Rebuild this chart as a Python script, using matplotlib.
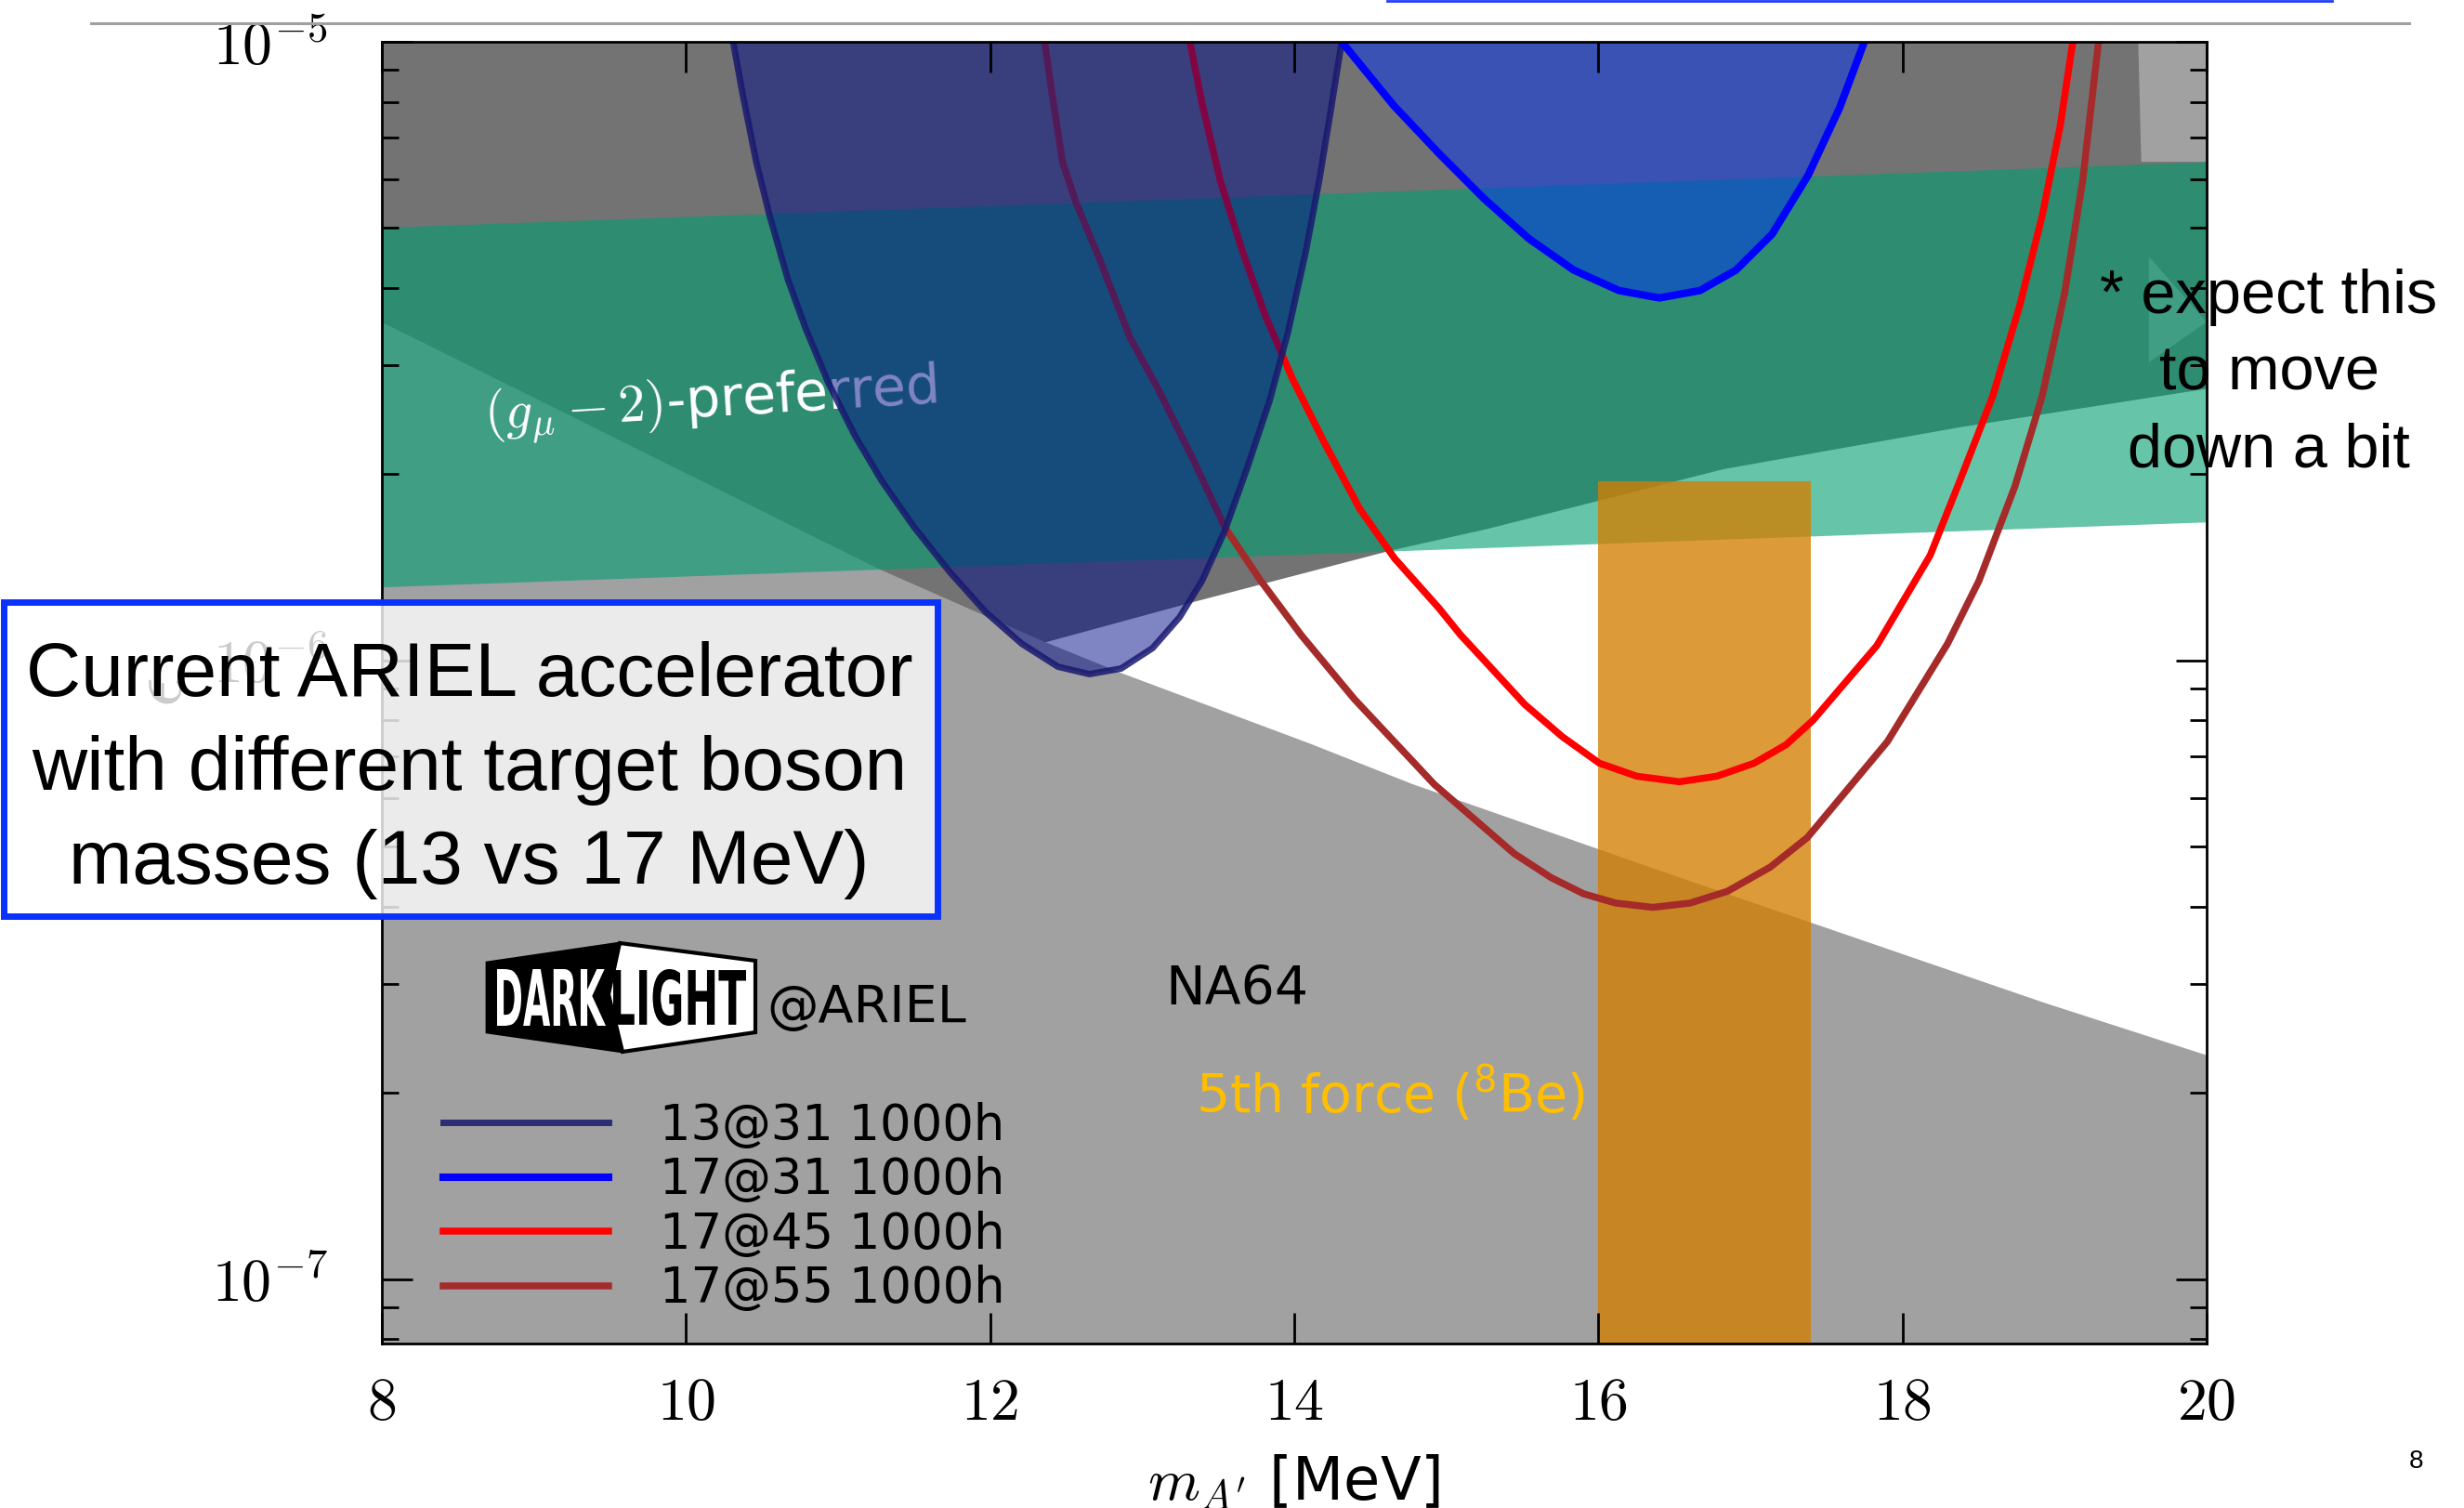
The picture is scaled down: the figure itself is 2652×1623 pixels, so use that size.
import numpy as np
import matplotlib
matplotlib.use('Agg')
import matplotlib.pyplot as plt
from matplotlib.patches import Rectangle, Polygon, PathPatch
from matplotlib.lines import Line2D
from matplotlib.textpath import TextPath
from matplotlib.font_manager import FontProperties
from matplotlib.transforms import Affine2D
from matplotlib.ticker import NullFormatter

plt.rcParams['font.family'] = 'DejaVu Sans'
plt.rcParams['mathtext.fontset'] = 'cm'

W, H, DPI = 2652, 1623, 200

# reach curves: x in MeV, y as log10(epsilon)
x_13_31 = [10.31, 10.373, 10.462, 10.551, 10.67, 10.788, 10.936, 11.114, 11.291, 11.499, 11.735, 11.972,
           12.209, 12.446, 12.653, 12.861, 13.068, 13.246, 13.394, 13.542, 13.69, 13.838, 13.957, 14.075,
           14.164, 14.238, 14.312]
y_13_31 = [-5.0, -5.085, -5.194, -5.282, -5.384, -5.464, -5.551, -5.638, -5.711, -5.784, -5.857, -5.922,
           -5.973, -6.010, -6.022, -6.013, -5.980, -5.930, -5.871, -5.791, -5.689, -5.580, -5.471, -5.340,
           -5.224, -5.114, -5.0]

x_17_31 = [14.312, 14.654, 14.95, 15.246, 15.542, 15.838, 16.135, 16.401, 16.668, 16.905, 17.142, 17.379,
           17.586, 17.749]
y_17_31 = [-5.0, -5.103, -5.18, -5.253, -5.318, -5.369, -5.402, -5.414, -5.402, -5.369, -5.311, -5.216,
           -5.107, -5.0]

x_17_45 = [13.314, 13.394, 13.513, 13.661, 13.809, 13.987, 14.194, 14.431, 14.66, 14.95, 15.095, 15.246,
           15.516, 15.762, 16.007, 16.252, 16.533, 16.779, 17.024, 17.235, 17.41, 17.831, 18.182, 18.386,
           18.593, 18.77, 18.918, 19.037, 19.12]
y_17_45 = [-5.0, -5.1, -5.224, -5.34, -5.442, -5.544, -5.646, -5.755, -5.835, -5.915, -5.959, -5.999,
           -6.071, -6.123, -6.166, -6.187, -6.196, -6.187, -6.166, -6.136, -6.097, -5.976, -5.83, -5.704,
           -5.573, -5.427, -5.282, -5.136, -5.0]

x_17_55 = [12.358, 12.417, 12.476, 12.565, 12.713, 12.92, 13.098, 13.335, 13.542, 13.779, 14.046, 14.394,
           14.92, 15.446, 15.69, 15.902, 16.113, 16.358, 16.604, 16.849, 17.13, 17.375, 17.901, 18.296,
           18.503, 18.74, 18.918, 19.067, 19.185, 19.289]
y_17_55 = [-5.0, -5.1, -5.194, -5.26, -5.347, -5.478, -5.558, -5.675, -5.784, -5.871, -5.959, -6.062,
           -6.2, -6.312, -6.351, -6.377, -6.392, -6.399, -6.392, -6.373, -6.334, -6.286, -6.131, -5.973,
           -5.871, -5.718, -5.573, -5.405, -5.224, -5.0]

curve_labels = ['13@31 1000h', '17@31 1000h', '17@45 1000h', '17@55 1000h']

# excluded regions
x_na64 = [8, 11.26, 12.36, 12.86, 14.1, 14.78, 16.49, 18.93, 20]
y_na64 = [-5.453, -5.851, -5.97, -6.02, -6.134, -6.2, -6.347, -6.553, -6.638]

x_upper = [8, 11.26, 12.36, 13.33, 14.64, 15.26, 16.82, 18.38, 20]
y_upper = [-5.453, -5.851, -5.97, -5.905, -5.821, -5.787, -5.69, -5.622, -5.56]

x_corner = [19.55, 19.57, 20, 20]
y_corner = [-5.0, -5.194, -5.194, -5.0]
x_sliver = [19.62, 19.62, 20]
y_sliver = [-5.347, -5.518, -5.453]

# (g-2) preferred band
x_gm2 = [8, 20]
y_gm2_low = [-5.881, -5.776]
y_gm2_high = [-5.30, -5.194]

# 8Be band
x_be8 = [16.0, 17.4]
y_be8_top = -5.71

x_ticks = [8, 10, 12, 14, 16, 18, 20]
y_ticks = [1e-7, 1e-6, 1e-5]
y_ticklabels = [r'$10^{-7}$', r'$10^{-6}$', r'$10^{-5}$']


def px(x, y):
	# slide pixel position -> figure fraction
	return x / W, 1 - y / H


def squeezed_word(fig, s, x0, y0, x1, y1, color):
	# logo lettering, stretched to fill a pixel box
	tp = TextPath((0, 0), s, size=1, prop=FontProperties(family='DejaVu Sans', weight='bold'))
	bb = tp.get_extents()
	tr = (Affine2D().translate(-bb.x0, -bb.y0)
		.scale((x1 - x0) / bb.width / DPI, (y1 - y0) / bb.height / DPI)
		.translate(x0 / DPI, (H - y1) / DPI) + fig.dpi_scale_trans)
	fig.add_artist(PathPatch(tp, fc=color, ec='none', transform=tr, zorder=9))


def main():
	fig = plt.figure(figsize=(W / DPI, H / DPI), dpi=DPI)
	ax = fig.add_axes([411 / W, 1 - 1446 / H, 1964 / W, 1401 / H])
	ax.set_yscale('log')
	ymin = 10 ** -7.104

	# exclusions
	ax.fill_between(x_na64, 1e-9, 10 ** np.array(y_na64), color='#a1a1a1', lw=0, zorder=1)
	ax.fill_between(x_upper, 10 ** np.array(y_upper), 1e-4, color='#737373', lw=0, zorder=1)
	ax.fill(x_corner, 10 ** np.array(y_corner), color='#a1a1a1', lw=0, zorder=1.1)
	ax.fill(x_sliver, 10 ** np.array(y_sliver), color='#a1a1a1', lw=0, zorder=1.1)

	ax.fill_between(x_gm2, 10 ** np.array(y_gm2_low), 10 ** np.array(y_gm2_high),
		color='#009d71', alpha=0.6, lw=0, zorder=2)
	ax.text(10.16, 10 ** -5.585, r'$(g_\mu - 2)$-preferred', color='white', fontsize=21,
		rotation=3.5, ha='center', va='center', rotation_mode='anchor', zorder=2.5)

	ax.fill_between(x_be8, 1e-9, 10 ** y_be8_top, color='#d37e00', alpha=0.78, lw=0, zorder=3)

	# projected reach
	l45, = ax.plot(x_17_45, 10 ** np.array(y_17_45), color='red', lw=2.7, zorder=4, label=curve_labels[2])
	l55, = ax.plot(x_17_55, 10 ** np.array(y_17_55), color='brown', lw=2.7, zorder=4, label=curve_labels[3])
	ax.fill(x_13_31, 10 ** np.array(y_13_31), color='#000d87', alpha=0.5, lw=0, zorder=5)
	l13, = ax.plot(x_13_31, 10 ** np.array(y_13_31), color='midnightblue', alpha=0.85, lw=2.5,
		zorder=6, label=curve_labels[0])
	ax.fill(x_17_31, 10 ** np.array(y_17_31), color='#0032f5', alpha=0.5, lw=0, zorder=5)
	l31, = ax.plot(x_17_31, 10 ** np.array(y_17_31), color='blue', lw=2.9, zorder=6, label=curve_labels[1])

	ax.text(13.15, 10 ** -6.556, 'NA64', fontsize=20.5, va='baseline', zorder=7)
	ax.text(13.35, 10 ** -6.731, r'5th force ($\mathregular{^8}$Be)', color='#ffbf00', fontsize=20.5,
		va='baseline', zorder=7)

	ax.set_xlim(8, 20)
	ax.set_ylim(ymin, 1e-5)
	ax.set_xticks(x_ticks)
	ax.set_xticklabels(['$%d$' % v for v in x_ticks])
	ax.set_yticks(y_ticks)
	ax.set_yticklabels(y_ticklabels)
	ax.yaxis.set_minor_formatter(NullFormatter())
	ax.tick_params(which='both', direction='in', top=True, right=True, width=1.0, labelsize=23)
	ax.tick_params(which='major', length=12)
	ax.tick_params(which='minor', length=6.5)
	ax.tick_params(axis='x', pad=12)
	ax.tick_params(axis='y', pad=21)
	ax.xaxis.set_zorder(10)
	ax.yaxis.set_zorder(10)
	for sp in ax.spines.values():
		sp.set_zorder(10)
		sp.set_linewidth(1.0)

	ax.set_xlabel(r"$m_{A'}$ [MeV]", fontsize=23, labelpad=8)
	ax.set_ylabel(r'$\epsilon$', fontsize=28, labelpad=6)

	leg = ax.legend(handles=[l13, l31, l45, l55], loc='upper left', bbox_to_anchor=(0.0336, 0.1857),
		frameon=False, fontsize=19, handlelength=3.37, handletextpad=1.04, labelspacing=0.122,
		borderpad=0, borderaxespad=0)
	leg.set_zorder(8)

	# DarkLight logo
	to_fig = Affine2D().scale(1 / W, -1 / H).translate(0, 1) + fig.transFigure
	fig.add_artist(Polygon([(524, 1036), (667, 1015), (655, 1070), (670, 1132), (524, 1111)],
		closed=True, fc='black', ec='black', lw=1, zorder=8, transform=to_fig))
	fig.add_artist(Polygon([(667, 1015), (813, 1034), (813, 1111), (670, 1132), (655, 1070)],
		closed=True, fc='white', ec='black', lw=1.5, zorder=8, transform=to_fig))
	squeezed_word(fig, 'DARK', 535, 1043, 652, 1104, 'white')
	squeezed_word(fig, 'LIGHT', 660, 1043, 803, 1104, 'black')
	ax.text(0.2108, 0.247, '@ARIEL', transform=ax.transAxes, fontsize=20, va='baseline', zorder=8)

	# slide decorations
	fig.add_artist(Line2D([98 / W, 2593 / W], [1 - 25 / H] * 2, color='#a0a0a0', lw=1.1))
	fig.add_artist(Line2D([1493 / W, 2510 / W], [1 - 1 / H] * 2, color='#1f3cff', lw=1.0))
	bx, by = px(3.5, 986.5)
	fig.add_artist(Rectangle((bx, by), 1005 / W, 338.5 / H, transform=fig.transFigure,
		fc=(1, 1, 1, 0.8), ec='#0a32ff', lw=2.5, zorder=10))
	fig.text(*px(505, 829), 'Current ARIEL accelerator\nwith different target boson\nmasses (13 vs 17 MeV)',
		ha='center', va='center', multialignment='center', fontsize=29.5, family='Liberation Sans',
		linespacing=1.43, zorder=11)
	fig.text(*px(2442, 402.5), '* expect this\nto move\ndown a bit', ha='center', va='center',
		multialignment='center', fontsize=24, family='Liberation Sans', linespacing=1.43, zorder=11)
	fig.text(*px(2601, 1573), '8', ha='center', va='center', fontsize=10, family='Liberation Sans')

	fig.savefig('out.png', dpi=DPI)


if __name__ == '__main__':
	main()
